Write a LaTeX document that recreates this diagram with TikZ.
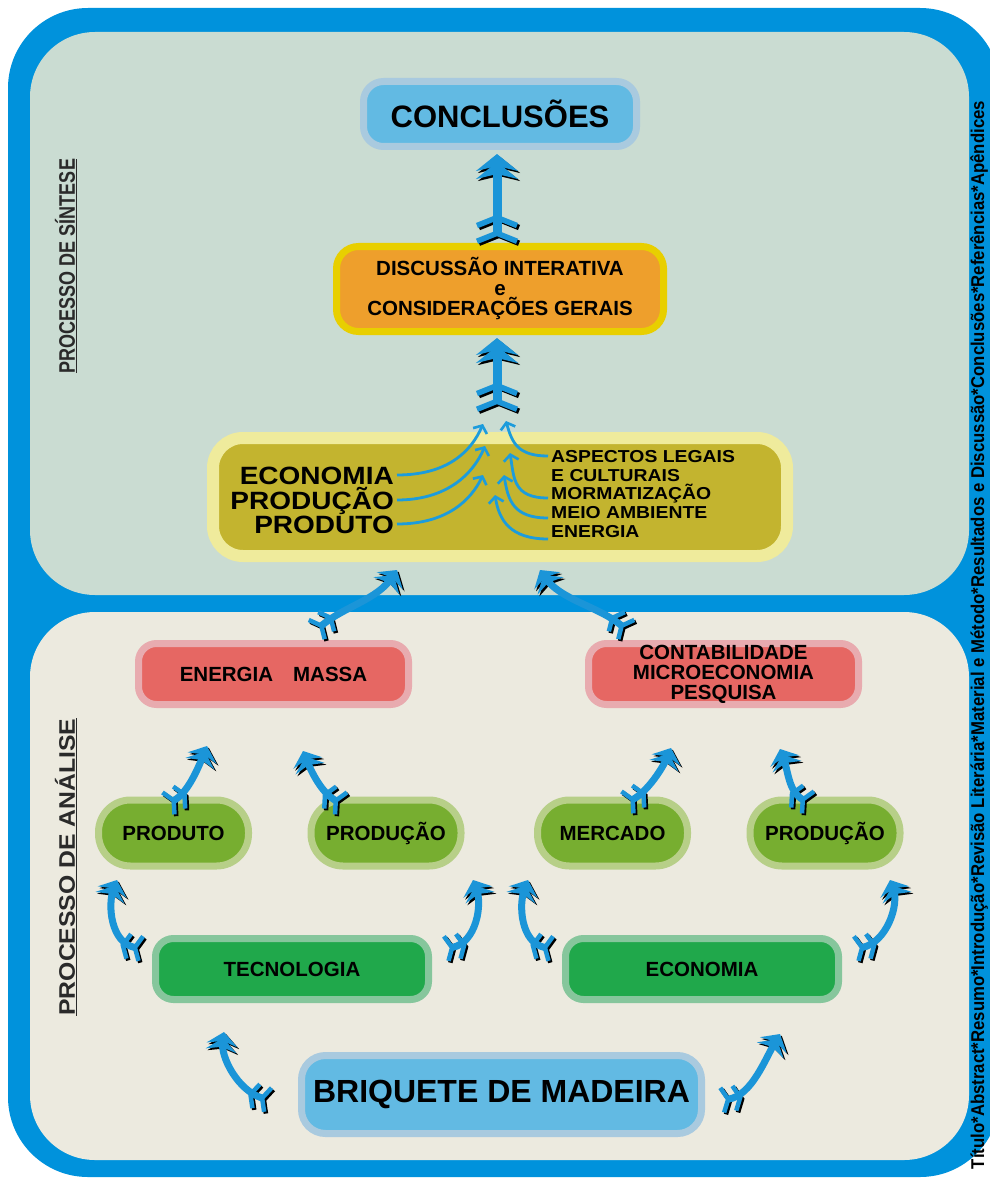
\documentclass[tikz,border=0pt]{standalone}
\usepackage{fontspec}
\setmainfont{Liberation Sans}
\usetikzlibrary{arrows.meta}

\definecolor{frameblue}{HTML}{0092DC}
\definecolor{synthbg}{HTML}{CADCD2}
\definecolor{analbg}{HTML}{ECEADF}
\definecolor{skyfill}{HTML}{62BAE3}
\definecolor{skyhalo}{HTML}{A9CADF}
\definecolor{orangefill}{HTML}{EE9F2C}
\definecolor{yellowhalo}{HTML}{E8CF00}
\definecolor{olivefill}{HTML}{C3B42F}
\definecolor{olivehalo}{HTML}{EFEB9C}
\definecolor{redfill}{HTML}{E66763}
\definecolor{redhalo}{HTML}{E8ABAF}
\definecolor{limefill}{HTML}{77AE30}
\definecolor{limehalo}{HTML}{B7CF88}
\definecolor{greenfill}{HTML}{20A84B}
\definecolor{greenhalo}{HTML}{86C69C}
\definecolor{arrowblue}{HTML}{1B95D8}
\definecolor{thinblue}{HTML}{1C9CDC}
\definecolor{labelgray}{HTML}{2A2A2A}

\newcommand\sz[2]{\fontsize{#1}{#2}\selectfont}

\tikzset{
  fathead/.tip={Stealth[length=17pt,width=42pt,inset=5pt,sep=-9pt]Stealth[length=17pt,width=42pt,inset=5pt]},
  fattail/.tip={Straight Barb[reversed,length=8pt,width=40pt,line width=5.5pt,sep=2pt]Straight Barb[reversed,length=8pt,width=40pt,line width=5.5pt]},
  midhead/.tip={Stealth[length=13pt,width=31pt,inset=4pt,sep=-7pt]Stealth[length=13pt,width=31pt,inset=4pt]},
  midtail/.tip={Straight Barb[reversed,length=6pt,width=25pt,line width=4.5pt,sep=1.5pt]Straight Barb[reversed,length=6pt,width=25pt,line width=4.5pt]},
  thinhead/.tip={Straight Barb[length=6pt,width=15pt,line width=2.6pt]},
  card/.style={rounded corners=#1, line width=7pt, inner sep=0pt, align=center},
  pill/.style={rounded corners=32pt, line width=7pt, inner sep=0pt, fill=limefill, draw=limehalo,
    minimum width=150pt, minimum height=66pt, font=\bfseries\sz{20.5}{20.5}},
  smallcard/.style={card=18pt, minimum width=270pt, minimum height=61pt, font=\bfseries\sz{20.5}{20}},
  bigtext/.style={anchor=east, inner sep=0pt, text height=18pt, text depth=0pt, font=\bfseries\sz{25}{25}},
  listtext/.style={anchor=west, inner sep=0pt, text height=12.5pt, text depth=0pt, font=\bfseries\sz{17.3}{17.3}},
  fatarrow/.style={draw=arrowblue, line width=9pt, fattail-fathead,
    preaction={draw=black, transform canvas={shift={(2pt,-2pt)}}}},
  midarrow/.style={draw=arrowblue, line width=7pt, midtail-midhead,
    preaction={draw=black, transform canvas={shift={(1.8pt,-1.8pt)}}}},
  thinarrow/.style={draw=thinblue, line width=2.8pt, -thinhead},
  sidelabel/.style={rotate=90, inner sep=0pt, text=labelgray, font=\bfseries\sz{22.5}{22.5}},
}

\begin{document}
\begin{tikzpicture}[x=1pt,y=-1pt]
\useasboundingbox (0,0) rectangle (989,1182);
\fill[white] (0,0) rectangle (989,1182);

% frame and the two panels
\fill[frameblue, rounded corners=80pt] (8,8) rectangle (1000,1177);
\fill[synthbg, rounded corners=65pt] (30,32) rectangle (969,595);
\fill[analbg, rounded corners=65pt] (30,612) rectangle (969,1160);

% side labels
\node[sidelabel] (lsynth) at (66,266) {\scalebox{0.8}[1]{\underline{PROCESSO DE SÍNTESE}}};
\node[sidelabel] (lanal) at (66,867) {\scalebox{1.1}[1]{\underline{PROCESSO DE ANÁLISE}}};
\node[rotate=90, inner sep=0pt, font=\bfseries\sz{18.5}{18.5}] (sections) at (979,635)
  {\scalebox{0.905}[1]{Título*Abstract*Resumo*Introdução*Revisão Literária*Material e Método*Resultados e Discussão*Conclusões*Referências*Apêndices}};

% synthesis panel
\node[card=20pt, fill=skyfill, draw=skyhalo, minimum width=273pt, minimum height=65pt,
  font=\bfseries\sz{31}{31}] (conc) at (500,114) {CONCLUSÕES};
\node[card=22pt, fill=orangefill, draw=yellowhalo, minimum width=327pt, minimum height=85pt,
  font=\bfseries\sz{20.5}{20}] (disc) at (500,289) {DISCUSSÃO INTERATIVA\\e\\CONSIDERAÇÕES GERAIS};
\node[card=30pt, fill=olivefill, draw=olivehalo, line width=12pt, minimum width=574pt, minimum height=118pt] (synth) at (500,497) {};

\node[bigtext] (econ) at (394,475) {\scalebox{1.12}[1]{ECONOMIA}};
\node[bigtext] (prodc) at (394,500) {\scalebox{1.12}[1]{PRODUÇÃO}};
\node[bigtext] (prodt) at (394,524) {\scalebox{1.12}[1]{PRODUTO}};

\node[listtext] (asp) at (551,456) {\scalebox{1.12}[1]{ASPECTOS LEGAIS}};
\node[listtext] (cult) at (551,475) {\scalebox{1.12}[1]{E CULTURAIS}};
\node[listtext] (morm) at (551,493) {\scalebox{1.12}[1]{MORMATIZAÇÃO}};
\node[listtext] (meio) at (551,512) {\scalebox{1.12}[1]{MEIO AMBIENTE}};
\node[listtext] (ener) at (551,531) {\scalebox{1.12}[1]{ENERGIA}};

\coordinate (l1) at (483,424);
\coordinate (l2) at (485,446);
\coordinate (l3) at (483,475);
\coordinate (r1) at (506,421);
\coordinate (r2) at (510,453);
\coordinate (r3) at (504,475);
\coordinate (r4) at (495,495);

\draw[thinarrow] ([xshift=3pt]econ.east) .. controls +(50,0) and +(-12,28) .. (l1);
\draw[thinarrow] ([xshift=3pt]prodc.east) .. controls +(50,0) and +(-12,28) .. (l2);
\draw[thinarrow] ([xshift=3pt]prodt.east) .. controls +(50,0) and +(-12,25) .. (l3);
\draw[thinarrow] ([xshift=-3pt]asp.west) .. controls +(-30,0) and +(6,22) .. (r1);
\draw[thinarrow] ([xshift=-3pt,yshift=-5pt]morm.west) .. controls +(-35,0) and +(4,25) .. (r2);
\draw[thinarrow] ([xshift=-3pt,yshift=-6pt]meio.west) .. controls +(-35,0) and +(4,25) .. (r3);
\draw[thinarrow] ([xshift=-3pt,yshift=-8pt]ener.west) .. controls +(-38,0) and +(4,25) .. (r4);

\draw[fatarrow] ([shift={(-3,1)}]disc.north) -- ([shift={(-3,4)}]conc.south);
\draw[fatarrow] ([shift={(-3,-20)}]synth.north) -- ([shift={(-3,3)}]disc.south);

% analysis panel
\node[smallcard, fill=redfill, draw=redhalo] (em) at (273.5,674) {ENERGIA\hspace{20pt}MASSA};
\node[smallcard, fill=redfill, draw=redhalo] (ct) at (723.5,674) {CONTABILIDADE\\MICROECONOMIA\\PESQUISA};

\node[pill] (pprod) at (173.5,833) {PRODUTO};
\node[pill] (pprodl) at (386,833) {PRODUÇÃO};
\node[pill] (merc) at (612.5,833) {MERCADO};
\node[pill] (pprodr) at (825,833) {PRODUÇÃO};

\node[smallcard, fill=greenfill, draw=greenhalo, minimum width=273pt] (tec) at (292,969) {TECNOLOGIA};
\node[smallcard, fill=greenfill, draw=greenhalo, minimum width=273pt] (eco) at (702,969) {ECONOMIA};

\node[card=24pt, fill=skyfill, draw=skyhalo, minimum width=400pt, minimum height=78pt,
  font=\bfseries\sz{32}{32}] (briq) at (501.5,1094.5) {BRIQUETE DE MADEIRA};

\coordinate (hc) at (207,746);
\coordinate (hd) at (303,751);
\coordinate (he) at (671,748);
\coordinate (hf) at (780,749);
\coordinate (hg) at (117,880);
\coordinate (hh) at (473,880);
\coordinate (hi) at (528,880);
\coordinate (hj) at (890,880);
\coordinate (hk) at (224,1032);
\coordinate (hl) at (780,1034);

\draw[midarrow] ([shift={(41.5,-9)}]em.north) .. controls +(30,-25) and +(-20,30) .. ([shift={(-103,8)}]synth.south);
\draw[midarrow] ([shift={(-95.5,-9)}]ct.north) .. controls +(-30,-25) and +(20,30) .. ([shift={(40,8)}]synth.south);

\draw[midarrow] ([shift={(-7,8)}]pprod.north) .. controls +(22,-12) and +(-8,20) .. (hc);
\draw[midarrow] ([shift={(-43,8)}]pprodl.north) .. controls +(-22,-12) and +(8,20) .. (hd);
\draw[midarrow] ([shift={(13,7)}]merc.north) .. controls +(22,-12) and +(-8,20) .. (he);
\draw[midarrow] ([shift={(-15,7)}]pprodr.north) .. controls +(-22,-12) and +(8,20) .. (hf);

\draw[midarrow] ([shift={(-9,14)}]tec.north west) .. controls +(-32,-6) and +(-10,25) .. (hg);
\draw[midarrow] ([shift={(12,14)}]tec.north east) .. controls +(32,-6) and +(10,25) .. (hh);
\draw[midarrow] ([shift={(-9,14)}]eco.north west) .. controls +(-32,-6) and +(-10,25) .. (hi);
\draw[midarrow] ([shift={(12,14)}]eco.north east) .. controls +(32,-6) and +(10,25) .. (hj);

\draw[midarrow] ([shift={(-28,6)}]briq.west) .. controls +(-32,-10) and +(-4,25) .. (hk);
\draw[midarrow] ([shift={(15,6)}]briq.east) .. controls +(32,-5) and +(-15,25) .. (hl);
\end{tikzpicture}
\end{document}
